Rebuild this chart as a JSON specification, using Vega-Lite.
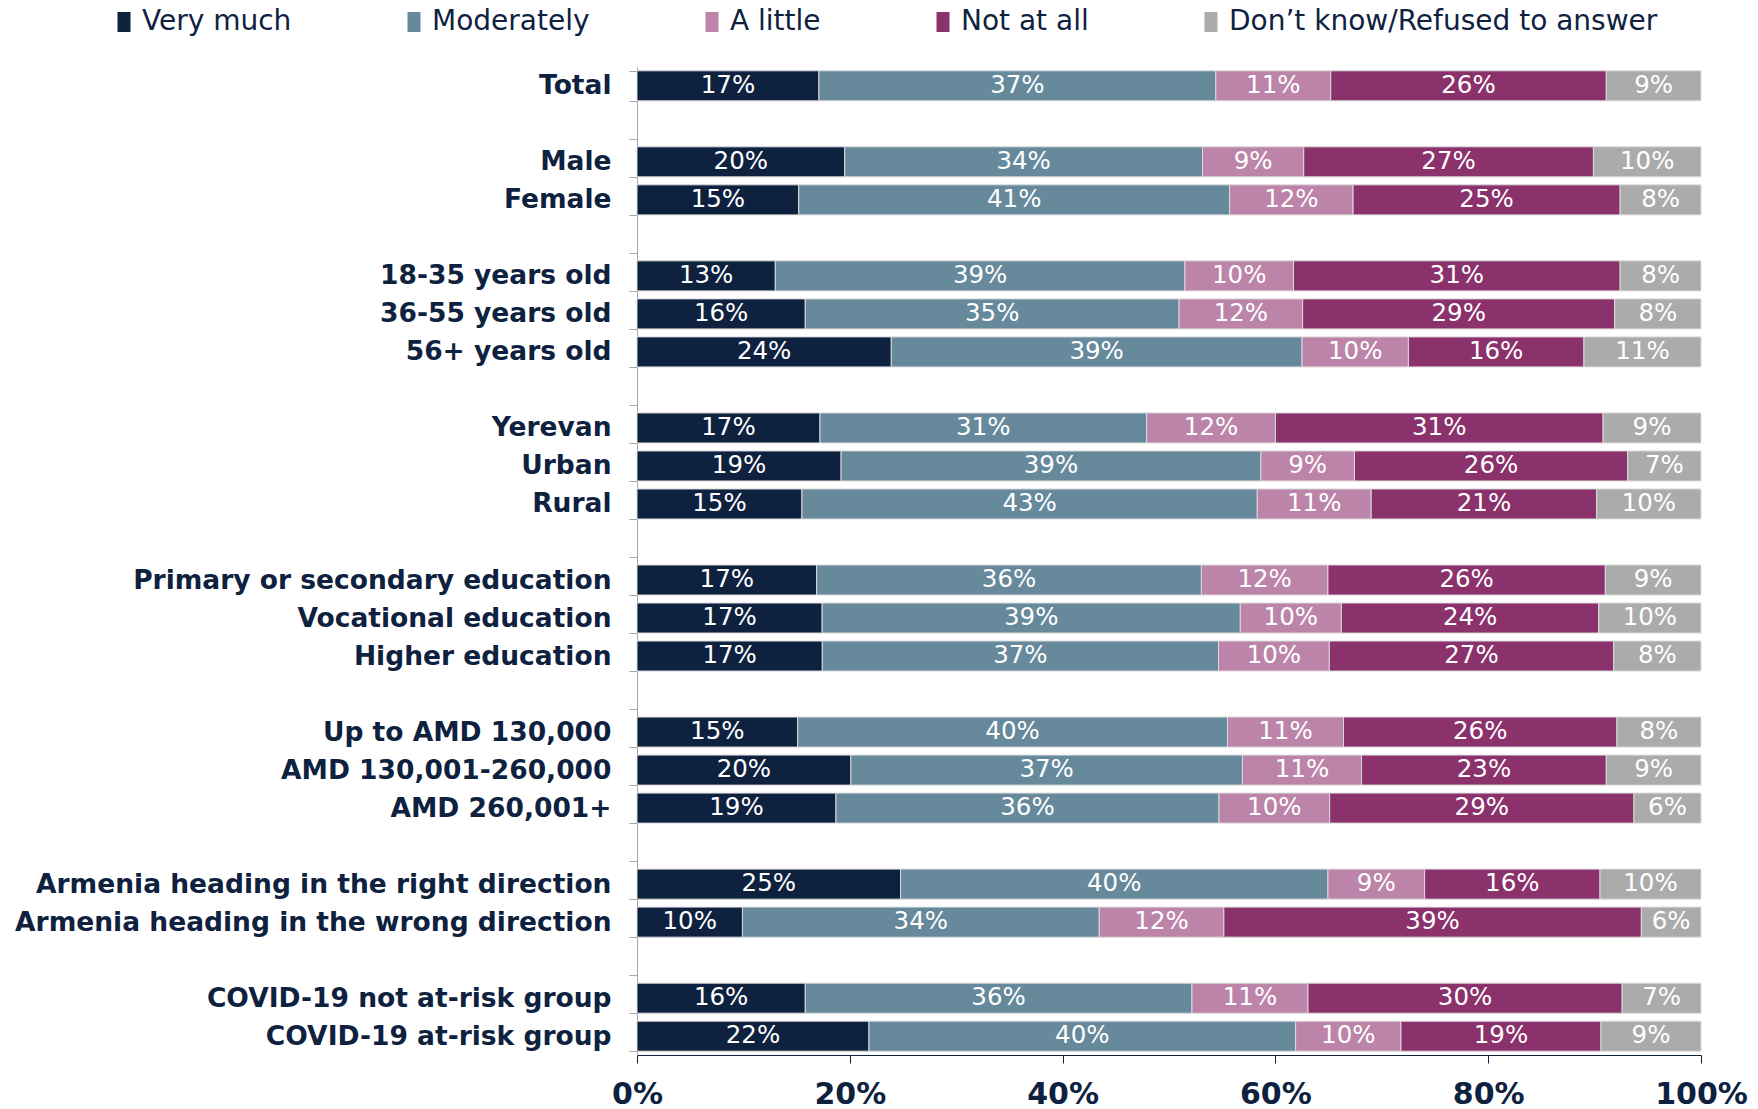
{
  "$schema": "https://vega.github.io/schema/vega-lite/v6.json",
  "width": 1064,
  "height": 988,
  "autosize": {"type": "none"},
  "padding": {"left": 637, "top": 67, "right": 57, "bottom": 54},
  "config": {"view": {"stroke": null}, "font": "DejaVu Sans"},
  "data": {
    "values": [
      {"g": "Total", "r": "Very much", "k": 1, "v": 17.1, "t": "17%"},
      {"g": "Total", "r": "Moderately", "k": 2, "v": 37.3, "t": "37%"},
      {"g": "Total", "r": "A little", "k": 3, "v": 10.8, "t": "11%"},
      {"g": "Total", "r": "Not at all", "k": 4, "v": 25.9, "t": "26%"},
      {"g": "Total", "r": "Don’t know/Refused to answer", "k": 5, "v": 8.9, "t": "9%"},
      {"g": "Male", "r": "Very much", "k": 1, "v": 19.5, "t": "20%"},
      {"g": "Male", "r": "Moderately", "k": 2, "v": 33.6, "t": "34%"},
      {"g": "Male", "r": "A little", "k": 3, "v": 9.5, "t": "9%"},
      {"g": "Male", "r": "Not at all", "k": 4, "v": 27.2, "t": "27%"},
      {"g": "Male", "r": "Don’t know/Refused to answer", "k": 5, "v": 10.1, "t": "10%"},
      {"g": "Female", "r": "Very much", "k": 1, "v": 15.2, "t": "15%"},
      {"g": "Female", "r": "Moderately", "k": 2, "v": 40.5, "t": "41%"},
      {"g": "Female", "r": "A little", "k": 3, "v": 11.6, "t": "12%"},
      {"g": "Female", "r": "Not at all", "k": 4, "v": 25.1, "t": "25%"},
      {"g": "Female", "r": "Don’t know/Refused to answer", "k": 5, "v": 7.6, "t": "8%"},
      {"g": "18-35 years old", "r": "Very much", "k": 1, "v": 13.0, "t": "13%"},
      {"g": "18-35 years old", "r": "Moderately", "k": 2, "v": 38.5, "t": "39%"},
      {"g": "18-35 years old", "r": "A little", "k": 3, "v": 10.2, "t": "10%"},
      {"g": "18-35 years old", "r": "Not at all", "k": 4, "v": 30.7, "t": "31%"},
      {"g": "18-35 years old", "r": "Don’t know/Refused to answer", "k": 5, "v": 7.6, "t": "8%"},
      {"g": "36-55 years old", "r": "Very much", "k": 1, "v": 15.8, "t": "16%"},
      {"g": "36-55 years old", "r": "Moderately", "k": 2, "v": 35.1, "t": "35%"},
      {"g": "36-55 years old", "r": "A little", "k": 3, "v": 11.6, "t": "12%"},
      {"g": "36-55 years old", "r": "Not at all", "k": 4, "v": 29.3, "t": "29%"},
      {"g": "36-55 years old", "r": "Don’t know/Refused to answer", "k": 5, "v": 8.1, "t": "8%"},
      {"g": "56+ years old", "r": "Very much", "k": 1, "v": 23.9, "t": "24%"},
      {"g": "56+ years old", "r": "Moderately", "k": 2, "v": 38.6, "t": "39%"},
      {"g": "56+ years old", "r": "A little", "k": 3, "v": 10.0, "t": "10%"},
      {"g": "56+ years old", "r": "Not at all", "k": 4, "v": 16.5, "t": "16%"},
      {"g": "56+ years old", "r": "Don’t know/Refused to answer", "k": 5, "v": 11.0, "t": "11%"},
      {"g": "Yerevan", "r": "Very much", "k": 1, "v": 17.2, "t": "17%"},
      {"g": "Yerevan", "r": "Moderately", "k": 2, "v": 30.7, "t": "31%"},
      {"g": "Yerevan", "r": "A little", "k": 3, "v": 12.1, "t": "12%"},
      {"g": "Yerevan", "r": "Not at all", "k": 4, "v": 30.8, "t": "31%"},
      {"g": "Yerevan", "r": "Don’t know/Refused to answer", "k": 5, "v": 9.2, "t": "9%"},
      {"g": "Urban", "r": "Very much", "k": 1, "v": 19.2, "t": "19%"},
      {"g": "Urban", "r": "Moderately", "k": 2, "v": 39.5, "t": "39%"},
      {"g": "Urban", "r": "A little", "k": 3, "v": 8.8, "t": "9%"},
      {"g": "Urban", "r": "Not at all", "k": 4, "v": 25.7, "t": "26%"},
      {"g": "Urban", "r": "Don’t know/Refused to answer", "k": 5, "v": 6.9, "t": "7%"},
      {"g": "Rural", "r": "Very much", "k": 1, "v": 15.5, "t": "15%"},
      {"g": "Rural", "r": "Moderately", "k": 2, "v": 42.8, "t": "43%"},
      {"g": "Rural", "r": "A little", "k": 3, "v": 10.7, "t": "11%"},
      {"g": "Rural", "r": "Not at all", "k": 4, "v": 21.2, "t": "21%"},
      {"g": "Rural", "r": "Don’t know/Refused to answer", "k": 5, "v": 9.8, "t": "10%"},
      {"g": "Primary or secondary education", "r": "Very much", "k": 1, "v": 16.9, "t": "17%"},
      {"g": "Primary or secondary education", "r": "Moderately", "k": 2, "v": 36.2, "t": "36%"},
      {"g": "Primary or secondary education", "r": "A little", "k": 3, "v": 11.9, "t": "12%"},
      {"g": "Primary or secondary education", "r": "Not at all", "k": 4, "v": 26.1, "t": "26%"},
      {"g": "Primary or secondary education", "r": "Don’t know/Refused to answer", "k": 5, "v": 9.0, "t": "9%"},
      {"g": "Vocational education", "r": "Very much", "k": 1, "v": 17.4, "t": "17%"},
      {"g": "Vocational education", "r": "Moderately", "k": 2, "v": 39.3, "t": "39%"},
      {"g": "Vocational education", "r": "A little", "k": 3, "v": 9.5, "t": "10%"},
      {"g": "Vocational education", "r": "Not at all", "k": 4, "v": 24.2, "t": "24%"},
      {"g": "Vocational education", "r": "Don’t know/Refused to answer", "k": 5, "v": 9.6, "t": "10%"},
      {"g": "Higher education", "r": "Very much", "k": 1, "v": 17.4, "t": "17%"},
      {"g": "Higher education", "r": "Moderately", "k": 2, "v": 37.2, "t": "37%"},
      {"g": "Higher education", "r": "A little", "k": 3, "v": 10.4, "t": "10%"},
      {"g": "Higher education", "r": "Not at all", "k": 4, "v": 26.7, "t": "27%"},
      {"g": "Higher education", "r": "Don’t know/Refused to answer", "k": 5, "v": 8.2, "t": "8%"},
      {"g": "Up to AMD 130,000", "r": "Very much", "k": 1, "v": 15.1, "t": "15%"},
      {"g": "Up to AMD 130,000", "r": "Moderately", "k": 2, "v": 40.4, "t": "40%"},
      {"g": "Up to AMD 130,000", "r": "A little", "k": 3, "v": 10.9, "t": "11%"},
      {"g": "Up to AMD 130,000", "r": "Not at all", "k": 4, "v": 25.7, "t": "26%"},
      {"g": "Up to AMD 130,000", "r": "Don’t know/Refused to answer", "k": 5, "v": 7.9, "t": "8%"},
      {"g": "AMD 130,001-260,000", "r": "Very much", "k": 1, "v": 20.1, "t": "20%"},
      {"g": "AMD 130,001-260,000", "r": "Moderately", "k": 2, "v": 36.8, "t": "37%"},
      {"g": "AMD 130,001-260,000", "r": "A little", "k": 3, "v": 11.2, "t": "11%"},
      {"g": "AMD 130,001-260,000", "r": "Not at all", "k": 4, "v": 23.0, "t": "23%"},
      {"g": "AMD 130,001-260,000", "r": "Don’t know/Refused to answer", "k": 5, "v": 8.9, "t": "9%"},
      {"g": "AMD 260,001+", "r": "Very much", "k": 1, "v": 18.7, "t": "19%"},
      {"g": "AMD 260,001+", "r": "Moderately", "k": 2, "v": 36.0, "t": "36%"},
      {"g": "AMD 260,001+", "r": "A little", "k": 3, "v": 10.4, "t": "10%"},
      {"g": "AMD 260,001+", "r": "Not at all", "k": 4, "v": 28.6, "t": "29%"},
      {"g": "AMD 260,001+", "r": "Don’t know/Refused to answer", "k": 5, "v": 6.3, "t": "6%"},
      {"g": "Armenia heading in the right direction", "r": "Very much", "k": 1, "v": 24.8, "t": "25%"},
      {"g": "Armenia heading in the right direction", "r": "Moderately", "k": 2, "v": 40.2, "t": "40%"},
      {"g": "Armenia heading in the right direction", "r": "A little", "k": 3, "v": 9.1, "t": "9%"},
      {"g": "Armenia heading in the right direction", "r": "Not at all", "k": 4, "v": 16.5, "t": "16%"},
      {"g": "Armenia heading in the right direction", "r": "Don’t know/Refused to answer", "k": 5, "v": 9.5, "t": "10%"},
      {"g": "Armenia heading in the wrong direction", "r": "Very much", "k": 1, "v": 9.9, "t": "10%"},
      {"g": "Armenia heading in the wrong direction", "r": "Moderately", "k": 2, "v": 33.5, "t": "34%"},
      {"g": "Armenia heading in the wrong direction", "r": "A little", "k": 3, "v": 11.7, "t": "12%"},
      {"g": "Armenia heading in the wrong direction", "r": "Not at all", "k": 4, "v": 39.2, "t": "39%"},
      {"g": "Armenia heading in the wrong direction", "r": "Don’t know/Refused to answer", "k": 5, "v": 5.6, "t": "6%"},
      {"g": "COVID-19 not at-risk group", "r": "Very much", "k": 1, "v": 15.8, "t": "16%"},
      {"g": "COVID-19 not at-risk group", "r": "Moderately", "k": 2, "v": 36.3, "t": "36%"},
      {"g": "COVID-19 not at-risk group", "r": "A little", "k": 3, "v": 10.9, "t": "11%"},
      {"g": "COVID-19 not at-risk group", "r": "Not at all", "k": 4, "v": 29.5, "t": "30%"},
      {"g": "COVID-19 not at-risk group", "r": "Don’t know/Refused to answer", "k": 5, "v": 7.4, "t": "7%"},
      {"g": "COVID-19 at-risk group", "r": "Very much", "k": 1, "v": 21.8, "t": "22%"},
      {"g": "COVID-19 at-risk group", "r": "Moderately", "k": 2, "v": 40.1, "t": "40%"},
      {"g": "COVID-19 at-risk group", "r": "A little", "k": 3, "v": 9.9, "t": "10%"},
      {"g": "COVID-19 at-risk group", "r": "Not at all", "k": 4, "v": 18.8, "t": "19%"},
      {"g": "COVID-19 at-risk group", "r": "Don’t know/Refused to answer", "k": 5, "v": 9.4, "t": "9%"}
    ]
  },
  "encoding": {
    "y": {
      "field": "g",
      "type": "nominal",
      "title": null,
      "scale": {
        "domain": ["Total", " ", "Male", "Female", "  ", "18-35 years old", "36-55 years old", "56+ years old", "   ", "Yerevan", "Urban", "Rural", "    ", "Primary or secondary education", "Vocational education", "Higher education", "     ", "Up to AMD 130,000", "AMD 130,001-260,000", "AMD 260,001+", "      ", "Armenia heading in the right direction", "Armenia heading in the wrong direction", "       ", "COVID-19 not at-risk group", "COVID-19 at-risk group"],
        "paddingInner": 0.21,
        "paddingOuter": 0.1
      },
      "axis": {
        "tickBand": "extent",
        "domainColor": "#A6A6A6",
        "tickColor": "#A6A6A6",
        "tickSize": 8,
        "labelPadding": 18,
        "labelFontSize": 26.5,
        "labelFontWeight": "bold",
        "labelColor": "#0E2240",
        "labelLimit": 700
      }
    },
    "x": {
      "field": "v",
      "type": "quantitative",
      "stack": "normalize",
      "title": null,
      "scale": {"domain": [0, 1], "nice": false},
      "axis": {
        "values": [0, 0.2, 0.4, 0.6, 0.8, 1],
        "format": ".0%",
        "grid": false,
        "domainColor": "#0E2240",
        "tickColor": "#0E2240",
        "tickSize": 8,
        "labelPadding": 16,
        "labelFontSize": 30,
        "labelFontWeight": "bold",
        "labelColor": "#0E2240",
        "labelFlush": false
      }
    },
    "order": {"field": "k", "type": "quantitative"}
  },
  "layer": [
    {
      "mark": {"type": "bar", "stroke": "#DADADA", "strokeWidth": 1},
      "encoding": {
        "color": {
          "field": "r",
          "type": "nominal",
          "scale": {
            "domain": ["Very much", "Moderately", "A little", "Not at all", "Don’t know/Refused to answer"],
            "range": ["#0E2240", "#66899C", "#BC84A9", "#8B316B", "#ABABAB"]
          },
          "legend": {
            "title": null,
            "orient": "none",
            "legendX": -527,
            "legendY": -59,
            "direction": "horizontal",
            "columns": 5,
            "padding": 0,
            "columnPadding": 108,
            "labelFontSize": 28,
            "labelColor": "#0E2240",
            "labelOffset": 4,
            "labelLimit": 800,
            "symbolType": "M-0.65,-1H0.65V1H-0.65Z",
            "symbolSize": 400,
            "symbolStrokeWidth": 0,
            "symbolOpacity": 1
          }
        }
      }
    },
    {
      "mark": {"type": "text", "color": "white", "fontSize": 24.5, "baseline": "middle", "align": "center"},
      "encoding": {
        "x": {"field": "v", "type": "quantitative", "stack": "normalize", "bandPosition": 0.5},
        "text": {"field": "t"}
      }
    }
  ]
}
